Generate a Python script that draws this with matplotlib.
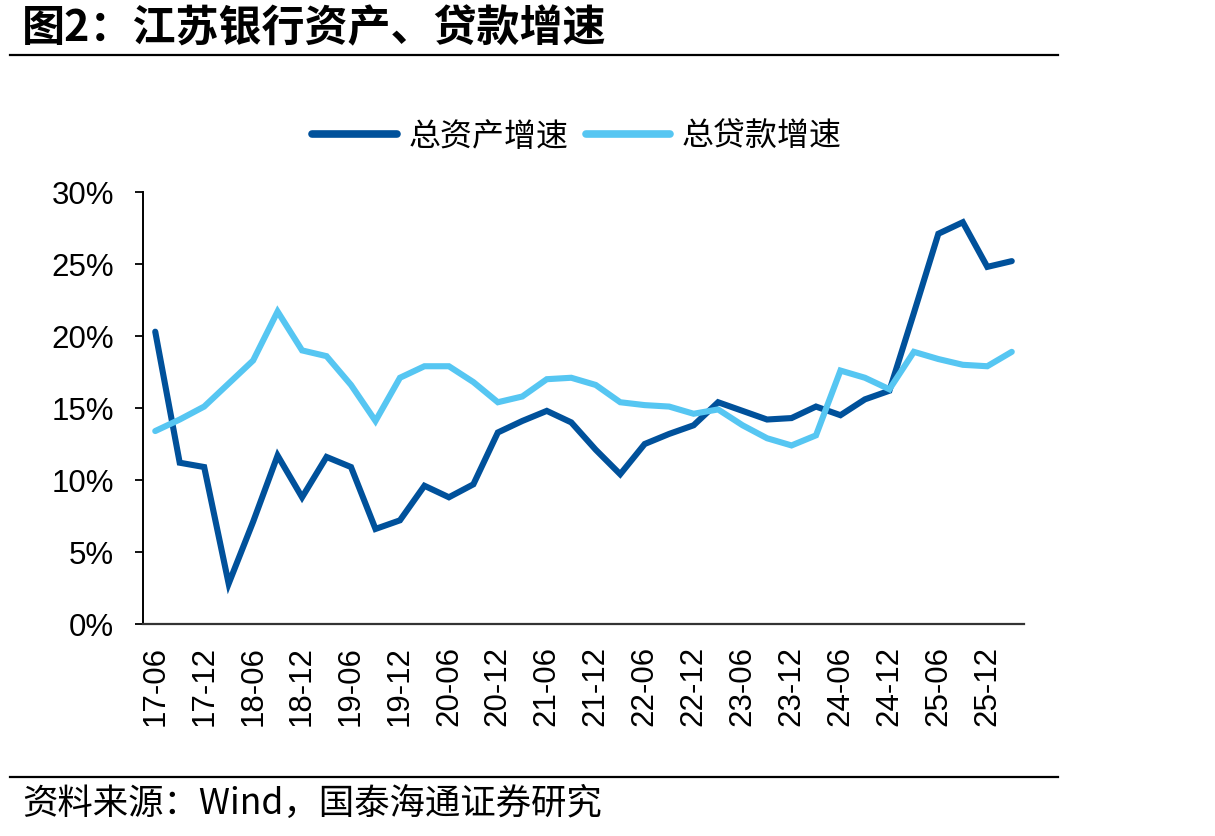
import matplotlib.pyplot as plt
from matplotlib.lines import Line2D

plt.rcParams['font.family'] = ['Liberation Sans', 'DejaVu Sans']
cjk = ['Noto Sans CJK SC', 'DejaVu Sans']

# 季度数据 17-06 ... 26-03
quarters = ['17-06', '17-09', '17-12', '18-03', '18-06', '18-09', '18-12', '19-03',
            '19-06', '19-09', '19-12', '20-03', '20-06', '20-09', '20-12', '21-03',
            '21-06', '21-09', '21-12', '22-03', '22-06', '22-09', '22-12', '23-03',
            '23-06', '23-09', '23-12', '24-03', '24-06', '24-09', '24-12', '25-03',
            '25-06', '25-09', '25-12', '26-03']

asset_growth = [20.3, 11.2, 10.9, 2.8, 7.1, 11.7, 8.8, 11.6, 10.9, 6.6, 7.2, 9.6,
                8.8, 9.7, 13.3, 14.1, 14.8, 14.0, 12.1, 10.4, 12.5, 13.2, 13.8, 15.4,
                14.8, 14.2, 14.3, 15.1, 14.5, 15.6, 16.2, 21.6, 27.1, 27.9, 24.8, 25.2]

loan_growth = [13.4, 14.2, 15.1, 16.7, 18.3, 21.7, 19.0, 18.6, 16.6, 14.1, 17.1, 17.9,
               17.9, 16.8, 15.4, 15.8, 17.0, 17.1, 16.6, 15.4, 15.2, 15.1, 14.6, 14.9,
               13.8, 12.9, 12.4, 13.1, 17.6, 17.1, 16.3, 18.9, 18.4, 18.0, 17.9, 18.9]

yticks = [0, 5, 10, 15, 20, 25, 30]

dark = '#00519B'
light = '#56C6F2'

fig = plt.figure(figsize=(12.15, 8.37), dpi=100)
ax = fig.add_axes([143/1215, 1 - 625/837, 881/1215, 432/837])

x = list(range(len(quarters)))
ax.plot(x, asset_growth, color=dark, linewidth=4.4, solid_capstyle='round', solid_joinstyle='miter')
ax.plot(x, loan_growth, color=light, linewidth=4.4, solid_capstyle='round', solid_joinstyle='miter')

ax.set_xlim(-0.5, len(quarters) - 0.5)
ax.set_ylim(0, 30)
ax.set_yticks(yticks)
ax.set_yticklabels([f"{v}%" for v in yticks])
ax.set_xticks(x[::2])
ax.set_xticklabels(quarters[::2], rotation=90)

ax.tick_params(axis='y', labelsize=22.5, length=6, width=1.3, pad=15, direction='out')
ax.tick_params(axis='x', labelsize=22.5, length=0, pad=15)

for s in ['top', 'right']:
    ax.spines[s].set_visible(False)
ax.spines['left'].set_linewidth(1.4)
ax.spines['bottom'].set_linewidth(1.6)
ax.spines['bottom'].set_color('#333333')

# 图例
handles = [Line2D([], [], color=dark, linewidth=5.5, solid_capstyle='round'),
           Line2D([], [], color=light, linewidth=5.5, solid_capstyle='round')]
fig.legend(handles, ['总资产增速', '总贷款增速'], loc='center', bbox_to_anchor=(577/1215, 1 - 137/837),
           ncol=2, frameon=False, prop={'family': cjk, 'size': 23},
           handlelength=2.65, handletextpad=0.35, columnspacing=0.55)

# 标题、分隔线、来源
fig.text(22/1215, 1 - 28/837, '图2：江苏银行资产、贷款增速', fontsize=31, fontweight='bold',
         family=cjk, ha='left', va='center')
fig.add_artist(Line2D([10/1215, 1058/1215], [1 - 56/837, 1 - 56/837], color='black', linewidth=1.6))
fig.add_artist(Line2D([10/1215, 1058/1215], [1 - 778/837, 1 - 778/837], color='black', linewidth=1.6))
fig.text(22/1215, 1 - 804/837, '资料来源：Wind，国泰海通证券研究', fontsize=25.5,
         family=cjk, ha='left', va='center')

fig.savefig('out.png', dpi=100, facecolor='white')
